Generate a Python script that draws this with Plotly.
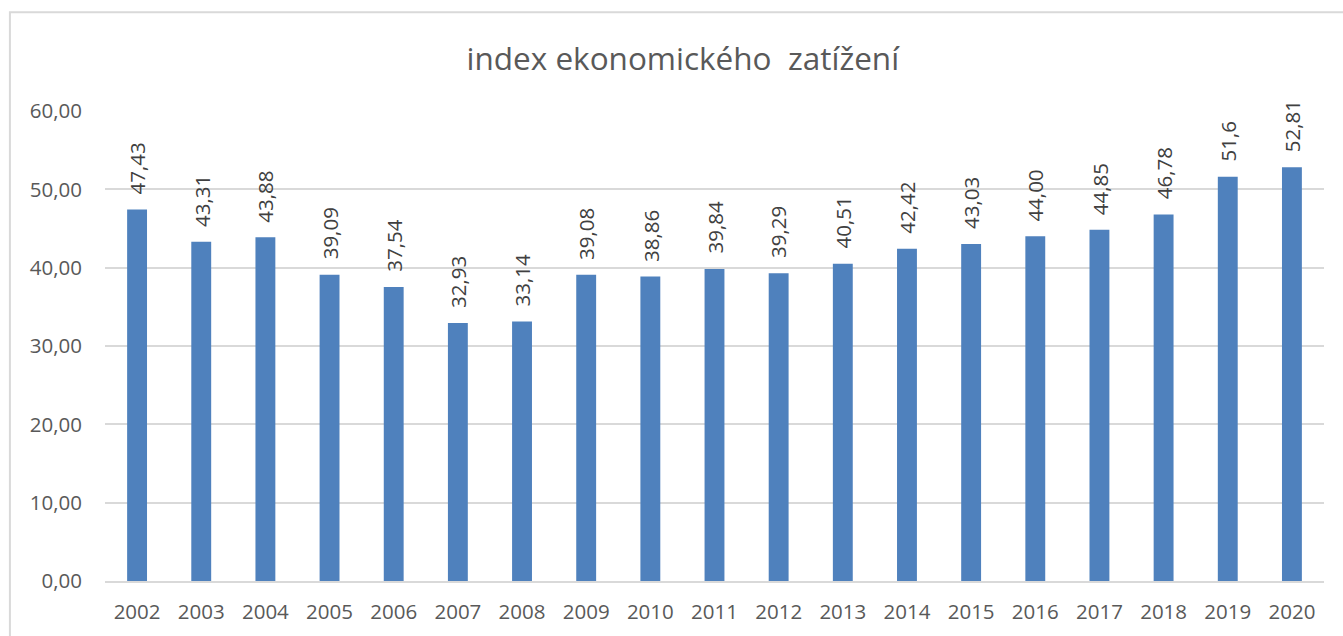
import plotly.graph_objects as go

# Index values per year as published (decimal comma)
years = ["2002", "2003", "2004", "2005", "2006", "2007", "2008", "2009", "2010", "2011",
         "2012", "2013", "2014", "2015", "2016", "2017", "2018", "2019", "2020"]
value_labels = ["47,43", "43,31", "43,88", "39,09", "37,54", "32,93", "33,14", "39,08", "38,86",
                "39,84", "39,29", "40,51", "42,42", "43,03", "44,00", "44,85", "46,78", "51,6", "52,81"]
values = [float(s.replace(",", ".")) for s in value_labels]

title_text = "index ekonomického  zatížení"
y_ticks = [0, 10, 20, 30, 40, 50, 60]

FONT = "Open Sans"
GREY_TEXT = "#595959"
GRID = "#D9D9D9"
BAR = "#4F81BD"

fig = go.Figure(
    go.Bar(
        x=years,
        y=values,
        marker=dict(color=BAR, line=dict(width=0)),
        hoverinfo="x+y",
    )
)

# Rotated value labels above each bar (x given as category index)
for i, (v, lab) in enumerate(zip(values, value_labels)):
    fig.add_annotation(
        x=i, y=v, text=lab, textangle=-90,
        showarrow=False, xanchor="center", yanchor="bottom", yshift=13,
        font=dict(family=FONT, size=20.5, color="#404040"),
    )

# Light grey frame around the chart area
fig.add_shape(
    type="rect", xref="paper", yref="paper",
    x0=-0.078, x1=1.03, y0=-0.2, y1=1.21,
    line=dict(color=GRID, width=2), fillcolor="rgba(0,0,0,0)", layer="below",
)

fig.update_layout(
    width=1343, height=636,
    margin=dict(l=105, r=19, t=111, b=55),
    paper_bgcolor="white", plot_bgcolor="white",
    separators=", ",
    bargap=0.69,
    showlegend=False,
    font=dict(family=FONT, color=GREY_TEXT, size=20.5),
    title=dict(
        text=title_text, xref="paper", x=0.474, xanchor="center", y=0.908, yanchor="middle",
        font=dict(family=FONT, size=31.5, color=GREY_TEXT),
    ),
    xaxis=dict(
        type="category", range=[-0.5, len(years) - 0.5],
        showgrid=False, showline=True, linecolor=GRID, linewidth=2,
        ticks="", ticklabelstandoff=11, tickfont=dict(size=20.5, color=GREY_TEXT),
        fixedrange=True,
    ),
    yaxis=dict(
        range=[0, 60], tickvals=y_ticks, tickformat=".2f",
        showgrid=True, gridcolor=GRID, gridwidth=2, zeroline=False,
        showline=False, ticks="", ticklabelstandoff=22,
        tickfont=dict(size=20.5, color=GREY_TEXT), fixedrange=True,
    ),
)

fig.write_html("out.html")
